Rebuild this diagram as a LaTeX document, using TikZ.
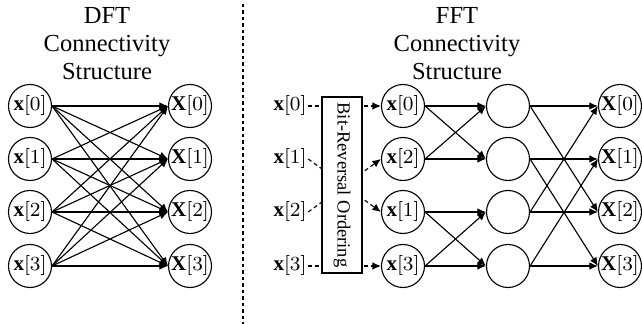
\documentclass[tikz,border=0pt]{standalone}
\usepackage{fontspec}
\setmainfont{Liberation Serif}
\usetikzlibrary{arrows.meta}
\begin{document}
\begin{tikzpicture}[x=0.4pt,y=-0.4pt,
  nd/.style={circle,draw,line width=0.45pt,minimum size=17.2pt,inner sep=0pt,font=\fontsize{8.4}{9}\selectfont},
  lbl/.style={inner sep=0.5pt,font=\fontsize{8.4}{9}\selectfont},
  ttl/.style={align=center,font=\fontsize{9.8}{11.2}\selectfont},
  conn/.style={line width=0.45pt,-{Latex[length=3.4pt,width=3pt]}},
  dconn/.style={line width=0.45pt,dash pattern=on 1.6pt off 1.2pt,-{Latex[length=3.4pt,width=3pt]}},
  sep/.style={line width=0.45pt,dash pattern=on 1.4pt off 1.2pt},
  boxn/.style={draw,fill=white,line width=0.45pt,rotate=-90,minimum width=70.4pt,minimum height=16pt,inner sep=0pt,font=\fontsize{7.4}{8}\selectfont}]
\useasboundingbox (0,0) rectangle (642,324);
% titles
\node[ttl] (t1) at (107,44) {DFT\\Connectivity\\Structure};
\node[ttl] (t2) at (457,44) {FFT\\Connectivity\\Structure};
% separator
\coordinate (s1) at (243,4);
\coordinate (s2) at (243,324);
\draw[sep] (s1) -- (s2);
% DFT nodes
\foreach \i/\y in {0/106,1/159,2/212,3/266}{
  \node[nd] (a\i) at (30,\y) {$\mathbf{x}[\i]$};
  \node[nd] (b\i) at (190,\y) {$\mathbf{X}[\i]$};
}
\foreach \i in {0,1,2,3}{
  \foreach \j in {0,1,2,3}{
    \draw[conn] (a\i.east) -- (b\j.west);
  }
}
% FFT
\foreach \i/\y in {0/106,1/159,2/212,3/266}{
  \node[lbl] (l\i) at (290,\y) {$\mathbf{x}[\i]$};
  \node[nd] (m\i) at (508,\y) {};
  \node[nd] (o\i) at (620,\y) {$\mathbf{X}[\i]$};
}
\node[nd] (f0) at (403,106) {$\mathbf{x}[0]$};
\node[nd] (f2) at (403,159) {$\mathbf{x}[2]$};
\node[nd] (f1) at (403,212) {$\mathbf{x}[1]$};
\node[nd] (f3) at (403,266) {$\mathbf{x}[3]$};
\draw[dconn] (l0.east) -- (f0.west);
\draw[dconn] (l1.east) -- (f1.west);
\draw[dconn] (l2.east) -- (f2.west);
\draw[dconn] (l3.east) -- (f3.west);
\node[boxn] (br) at (342,185) {Bit-Reversal Ordering};
% stage 1
\foreach \s/\a/\b in {f0/m0/m1,f2/m0/m1,f1/m2/m3,f3/m2/m3}{
  \draw[conn] (\s.east) -- (\a.west);
  \draw[conn] (\s.east) -- (\b.west);
}
% stage 2
\foreach \s/\a/\b in {m0/o0/o2,m1/o1/o3,m2/o2/o0,m3/o3/o1}{
  \draw[conn] (\s.east) -- (\a.west);
  \draw[conn] (\s.east) -- (\b.west);
}
\end{tikzpicture}
\end{document}
